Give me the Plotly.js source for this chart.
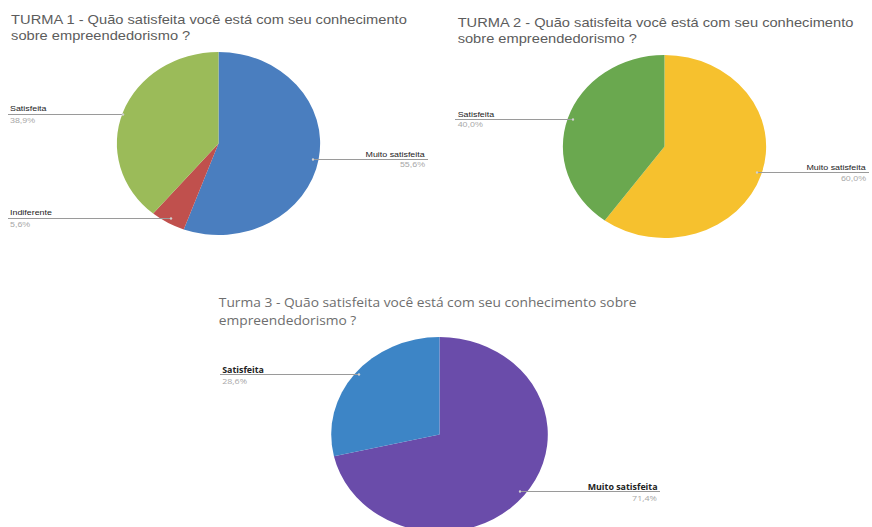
<!DOCTYPE html>
<html>
<head>
<meta charset="utf-8">
<script src="https://cdn.plot.ly/plotly-3.0.1.min.js"></script>
<style>
  html, body { margin: 0; padding: 0; background: #fff; overflow: hidden; width: 872px; height: 527px; }
  #plot { width: 785px; height: 545px; transform: scaleX(1.1108); transform-origin: 0 0; }
</style>
</head>
<body>
<div id="plot"></div>
<script>
// ---- data ----
const titles = [
  ['TURMA 1 - Quão satisfeita você está com seu conhecimento', 'sobre empreendedorismo ?'],
  ['TURMA 2 - Quão satisfeita você está com seu conhecimento', 'sobre empreendedorismo ?'],
  ['Turma 3 - Quão satisfeita você está com seu conhecimento sobre', 'empreendedorismo ?']
];
const turma1Labels = ['Muito satisfeita', 'Indiferente', 'Satisfeita'];
const turma1Values = [10, 1, 7];
const turma2Labels = ['Muito satisfeita', 'Satisfeita'];
const turma2Values = [3, 2];
const turma3Labels = ['Muito satisfeita', 'Satisfeita'];
const turma3Values = [5, 2];

// ---- styles / layout helpers ----
const SX = 1.1108, W = 785, H = 545;
const X = px => px / SX / W;
const Y = py => 1 - py / H;
const pct = (vals, i) => {
  const s = vals.reduce((a, b) => a + b, 0);
  return (vals[i] / s * 100).toFixed(1).replace('.', ',') + '%';
};

const colors1 = ['#4a7ebf', '#c0504d', '#9bbb59'];
const colors2 = ['#f6c12e', '#6aa84f'];
const colors3 = ['#6a4caa', '#3d85c6'];

function pieDomain(cx, cy, rv) {
  const rh = rv * SX;
  return { x: [X(cx - rh), X(cx + rh)], y: [Y(cy + rv), Y(cy - rv)] };
}

const pieBase = {
  type: 'pie', sort: false, direction: 'clockwise', rotation: 0,
  textinfo: 'none', hoverinfo: 'none', showlegend: false
};

const traces = [
  Object.assign({}, pieBase, { labels: turma1Labels, values: turma1Values, marker: { colors: colors1, line: { width: 0 } }, domain: pieDomain(218.5, 143.5, 91.5) }),
  Object.assign({}, pieBase, { labels: turma2Labels, values: turma2Values, marker: { colors: colors2, line: { width: 0 } }, domain: pieDomain(664.5, 146.5, 91.5) }),
  Object.assign({}, pieBase, { labels: turma3Labels, values: turma3Values, marker: { colors: colors3, line: { width: 0 } }, domain: pieDomain(439.5, 434.5, 97.5) })
];

const annotations = [];
const shapes = [];
function txt(text, x, y, anchor, font) {
  annotations.push({ text: text, xref: 'paper', yref: 'paper', x: X(x), y: Y(y),
    xanchor: anchor, yanchor: 'middle', showarrow: false, font: font });
}
const arial = 'Liberation Sans, Arial, sans-serif';
const open = 'Open Sans, sans-serif';
const tf12 = { family: arial, size: 13.2, color: '#5c5c5c' };
const tf3 = { family: open, size: 12.4, color: '#6e6e6e' };

txt(titles[0][0], 9, 19, 'left', tf12);
txt(titles[0][1], 9, 35, 'left', tf12);
txt(titles[1][0], 455, 22, 'left', tf12);
txt(titles[1][1], 455, 38, 'left', tf12);
txt(titles[2][0], 217, 302, 'left', tf3);
txt(titles[2][1], 217, 320, 'left', tf3);

function label(name, vals, i, xText, yText, xLineA, xLineB, dotX, family, bold, anchor) {
  const nf = { family: family, size: 8, color: '#222222' };
  const pf = { family: family, size: 8, color: '#a8a8a8' };
  txt(bold ? '<b>' + name + '</b>' : name, xText, yText, anchor, nf);
  txt(pct(vals, i), xText, yText + 11, anchor, pf);
  shapes.push({ type: 'line', xref: 'paper', yref: 'paper', x0: X(xLineA), x1: X(xLineB),
    y0: Y(yText + 5.5), y1: Y(yText + 5.5), line: { color: '#9a9a9a', width: 1 } });
  shapes.push({ type: 'circle', xref: 'paper', yref: 'paper', x0: X(dotX - 1.2), x1: X(dotX + 1.2),
    y0: Y(yText + 6.7), y1: Y(yText + 4.3), fillcolor: '#d0d0d0', line: { width: 0 } });
}
// Turma 1
label(turma1Labels[2], turma1Values, 2, 8, 109, 8, 123, 123, arial, false, 'left');
label(turma1Labels[1], turma1Values, 1, 8, 213, 8, 171, 171, arial, false, 'left');
label(turma1Labels[0], turma1Values, 0, 428, 154, 313, 428, 313, arial, false, 'right');
// Turma 2
label(turma2Labels[1], turma2Values, 1, 455, 114, 455, 573, 573, arial, false, 'left');
label(turma2Labels[0], turma2Values, 0, 869, 167, 757, 869, 757, arial, false, 'right');
// Turma 3
label(turma3Labels[1], turma3Values, 1, 220, 369, 220, 359, 359, open, true, 'left');
label(turma3Labels[0], turma3Values, 0, 660, 486, 520, 660, 520, open, true, 'right');

const layout = {
  width: W, height: H,
  margin: { l: 0, r: 0, t: 0, b: 0 },
  paper_bgcolor: '#ffffff',
  showlegend: false,
  annotations: annotations,
  shapes: shapes
};
Plotly.newPlot('plot', traces, layout, { staticPlot: true, displayModeBar: false });
</script>
</body>
</html>
